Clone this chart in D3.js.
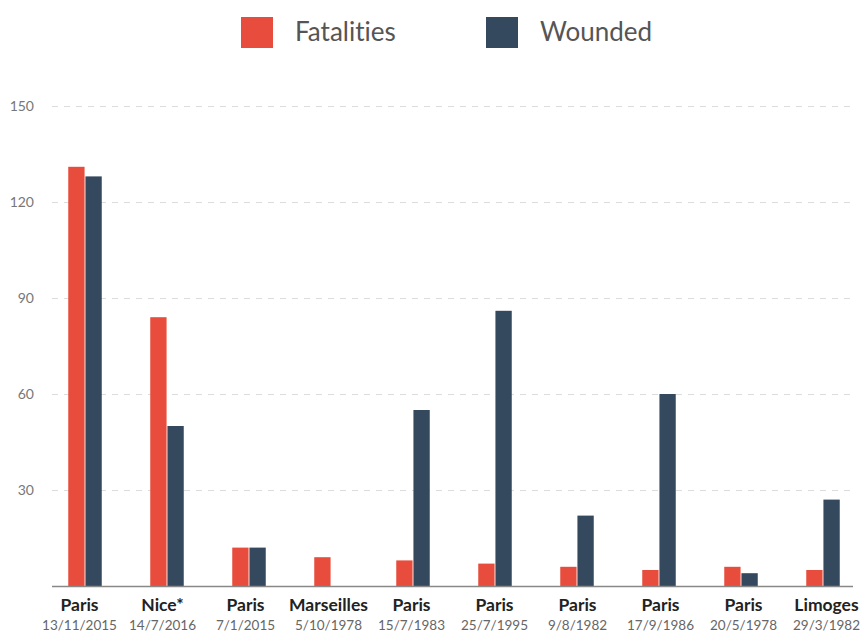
<!DOCTYPE html>
<html>
<head>
<meta charset="utf-8">
<script src="https://cdn.jsdelivr.net/npm/d3@7"></script>
<style>
  body { margin: 0; background: #fff; font-family: Lato, sans-serif; }
  svg text { font-variant-ligatures: none; }
</style>
</head>
<body>
<div id="chart"></div>
<script>
// data
var cities = ["Paris", "Nice*", "Paris", "Marseilles", "Paris", "Paris", "Paris", "Paris", "Paris", "Limoges"];
var dates = ["13/11/2015", "14/7/2016", "7/1/2015", "5/10/1978", "15/7/1983", "25/7/1995", "9/8/1982", "17/9/1986", "20/5/1978", "29/3/1982"];
var fatalities = [131, 84, 12, 9, 8, 7, 6, 5, 6, 5];
var wounded = [128, 50, 12, 0, 55, 86, 22, 60, 4, 27];
var yTicks = [30, 60, 90, 120, 150];

var keys = ["Fatalities", "Wounded"];
var colors = ["#e74c3c", "#34495e"];

var width = 862, height = 632;

var svg = d3.select("#chart")
	.append("svg")
	.attr("width", width)
	.attr("height", height);

var x0 = d3.scaleBand()
	.domain(d3.range(cities.length))
	.range([44, 864]);

// labels sit on a slightly wider spacing than the bars
var xl = d3.scaleBand()
	.domain(d3.range(cities.length))
	.range([38, 868]);

var x1 = d3.scaleBand()
	.domain(keys)
	.range([0, 33.5])
	.paddingInner(0.05);

var y = d3.scaleLinear()
	.domain([0, 150])
	.range([586, 106]);

var color = d3.scaleOrdinal().domain(keys).range(colors);

// gridlines + tick labels
var yAxis = svg.append("g")
	.attr("transform", "translate(52,0)")
	.call(d3.axisLeft(y).tickValues(yTicks).tickSize(-801).tickPadding(18));

yAxis.select(".domain").remove();
yAxis.selectAll(".tick line")
	.attr("stroke", "#dcdcdc")
	.attr("stroke-width", 1)
	.attr("stroke-dasharray", "6,6");
yAxis.selectAll(".tick text")
	.attr("fill", "#777")
	.attr("font-family", "Lato")
	.attr("font-size", "14px");

// bars
var rows = cities.map(function(c, i) {
	return { i: i, values: [fatalities[i], wounded[i]] };
});

var groups = svg.selectAll("g.group")
	.data(rows)
	.enter()
	.append("g")
	.attr("class", "group")
	.attr("transform", function(d) {
		return "translate(" + (x0(d.i) + (x0.bandwidth() - 33.5) / 2) + ",0)";
	});

groups.selectAll("rect")
	.data(function(d) {
		return keys.map(function(k, j) { return { key: k, value: d.values[j] }; });
	})
	.enter()
	.append("rect")
	.attr("x", function(d) { return x1(d.key); })
	.attr("y", function(d) { return y(d.value); })
	.attr("width", x1.bandwidth())
	.attr("height", function(d) { return y(0) - y(d.value); })
	.attr("fill", function(d) { return color(d.key); });

// baseline
svg.append("line")
	.attr("x1", 52)
	.attr("x2", 853)
	.attr("y1", y(0) + 0.5)
	.attr("y2", y(0) + 0.5)
	.attr("stroke", "#888")
	.attr("stroke-width", 1.5);

// category labels
var labels = svg.selectAll("g.label")
	.data(rows)
	.enter()
	.append("g")
	.attr("class", "label")
	.attr("transform", function(d) {
		return "translate(" + (xl(d.i) + xl.bandwidth() / 2) + ",0)";
	});

labels.append("text")
	.attr("y", 611)
	.attr("text-anchor", "middle")
	.attr("font-family", "Lato")
	.attr("font-weight", "bold")
	.attr("font-size", "17.5px")
	.attr("fill", "#222")
	.text(function(d) { return cities[d.i]; });

labels.append("text")
	.attr("y", 630)
	.attr("text-anchor", "middle")
	.attr("font-family", "Lato")
	.attr("font-size", "13.5px")
	.attr("fill", "#666")
	.text(function(d) { return dates[d.i]; });

// legend
var legendX = [241, 486];
var legend = svg.selectAll("g.legend")
	.data(keys)
	.enter()
	.append("g")
	.attr("class", "legend")
	.attr("transform", function(d, i) { return "translate(" + legendX[i] + ",17)"; });

legend.append("rect")
	.attr("width", 32)
	.attr("height", 31)
	.attr("fill", function(d) { return color(d); });

legend.append("text")
	.attr("x", 54)
	.attr("y", 24)
	.attr("font-family", "Lato")
	.attr("font-size", "26px")
	.attr("fill", "#555")
	.text(function(d) { return d; });
</script>
</body>
</html>
